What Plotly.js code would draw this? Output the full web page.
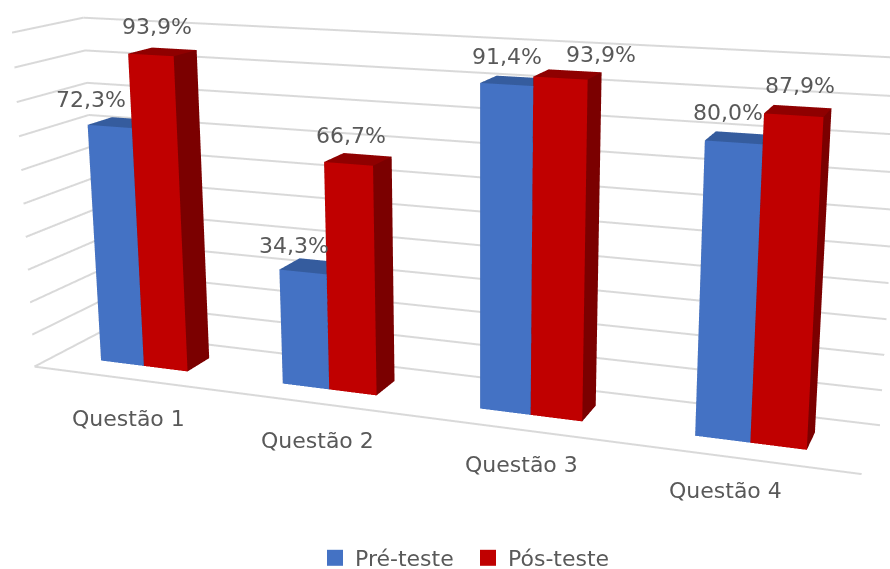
<!DOCTYPE html>
<html>
<head>
<meta charset="utf-8">
<script src="https://cdn.plot.ly/plotly-3.0.1.min.js"></script>
<style>
html,body{margin:0;padding:0;background:#fff;overflow:hidden;width:890px;height:569px}
#win{position:relative;width:890px;height:569px;overflow:hidden}
#plot{position:absolute}
</style>
</head>
<body>
<div id="win"><div id="plot"></div></div>
<script>
var categories = ['Questão 1','Questão 2','Questão 3','Questão 4'];
var preTeste = [72.3, 34.3, 91.4, 80.0];
var posTeste = [93.9, 66.7, 93.9, 87.9];
var preLabels = ['72,3%','34,3%','91,4%','80,0%'];
var posLabels = ['93,9%','66,7%','93,9%','87,9%'];
var gridTicks = [0,10,20,30,40,50,60,70,80,90,100];
var preShiftX = [-19,-9,0,-6], preShiftY = [12,12,13,15];
var posShiftX = [6,3,41,6], posShiftY = [14,14,9,15];
var catShiftX = [5,6,5,-16], catShiftY = [-26,-23,-21,-18];

var W = 1000, H = 1400, cx = 479, cy = 224;
var left = cx - W/2, top_ = cy - H/2;
var plot = document.getElementById('plot');
plot.style.left = left+'px'; plot.style.top = top_+'px';

var barW = 0.243, y0 = 0.32, y1 = 0.68;
var colors = {
  pre:{front:'#4472C4', side:'#2F5597', top:'#355C9E'},
  pos:{front:'#C00000', side:'#7B0000', top:'#8F0000'}
};
function box(xa,xb,v,c,name){
  var X=[xa,xb,xb,xa,xa,xb,xb,xa], Y=[y0,y0,y1,y1,y0,y0,y1,y1], Z=[0,0,0,0,v,v,v,v];
  var I=[0,0, 1,1, 4,4, 3,3, 0,0, 2,2];
  var J=[1,5, 2,6, 5,6, 2,6, 3,7, 3,7];
  var K=[5,4, 6,5, 6,7, 6,7, 7,4, 7,6];
  var fc=[c.front,c.front,c.side,c.side,c.top,c.top,c.side,c.side,c.side,c.side,c.side,c.side];
  return {type:'mesh3d',x:X,y:Y,z:Z,i:I,j:J,k:K,facecolor:fc,flatshading:true,
    lighting:{ambient:1,diffuse:0,specular:0,roughness:1,fresnel:0},
    showlegend:false,hoverinfo:'skip',name:name,showscale:false};
}
var traces=[];
var gx=[],gy=[],gz=[];
gridTicks.forEach(function(t){
  gx.push(0,0,4,null); gy.push(0,1,1,null); gz.push(t,t,t,null);
});
gx.push(0,4,null); gy.push(0,0,null); gz.push(0,0,null);
traces.push({type:'scatter3d',mode:'lines',x:gx,y:gy,z:gz,line:{color:'#D9D9D9',width:4},showlegend:false,hoverinfo:'skip'});
categories.forEach(function(c,i){
  var m=i+0.5;
  traces.push(box(m-barW,m,preTeste[i],colors.pre,'Pré-teste'));
  traces.push(box(m,m+barW,posTeste[i],colors.pos,'Pós-teste'));
});
traces.push({type:'scatter3d',mode:'markers',x:[null],y:[null],z:[null],name:'Pré-teste',marker:{symbol:'square',size:16,color:colors.pre.front}});
traces.push({type:'scatter3d',mode:'markers',x:[null],y:[null],z:[null],name:'Pós-teste',marker:{symbol:'square',size:16,color:colors.pos.front}});

var font={family:'"DejaVu Sans", sans-serif',size:22,color:'#595959'};
var ann=[];
categories.forEach(function(c,i){
  var m=i+0.5;
  ann.push({x:m-barW/2,y:y0,z:preTeste[i],text:preLabels[i],showarrow:false,font:font,yanchor:'bottom',xanchor:'center',xshift:preShiftX[i],yshift:preShiftY[i]});
  ann.push({x:m+barW/2,y:y0,z:posTeste[i],text:posLabels[i],showarrow:false,font:font,yanchor:'bottom',xanchor:'center',xshift:posShiftX[i],yshift:posShiftY[i]});
  ann.push({x:m,y:0,z:0,text:c,showarrow:false,font:font,yanchor:'top',xanchor:'center',xshift:catShiftX[i],yshift:catShiftY[i]});
});

var hidden={visible:false,showgrid:false,zeroline:false,showbackground:false,showticklabels:false,title:{text:''}};
var layout={
  width:W,height:H,margin:{l:0,r:0,t:0,b:0,pad:0},
  paper_bgcolor:'#fff',plot_bgcolor:'#fff',
  showlegend:true,
  legend:{orientation:'h',x:(315-left)/W,y:1-(558-top_)/H,xanchor:'left',yanchor:'middle',font:font,bgcolor:'rgba(0,0,0,0)',entrywidth:108,entrywidthmode:'pixels'},
  scene:{
    domain:{x:[0,1],y:[0,1]},
    xaxis:Object.assign({range:[0,4]},hidden),
    yaxis:Object.assign({range:[0,1]},hidden),
    zaxis:Object.assign({range:[0,100]},hidden),
    aspectmode:'manual',aspectratio:{x:2.435,y:0.365,z:1},
    camera:{eye:{x:1.670,y:-4.234,z:1.135},center:{x:0.114,y:0.042,z:0},up:{x:0,y:0,z:1},projection:{type:'perspective'}},
    annotations:ann
  }
};
Plotly.newPlot(plot,traces,layout,{displayModeBar:false,plotGlPixelRatio:2});
</script>
</body>
</html>
